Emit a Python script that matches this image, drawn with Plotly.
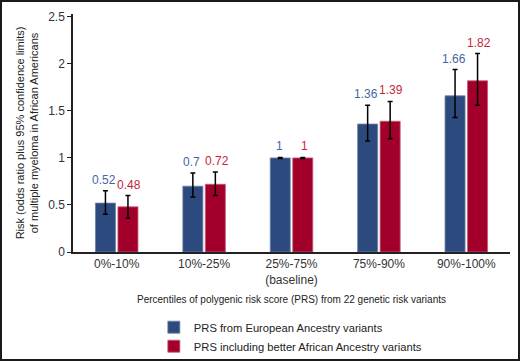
import plotly.graph_objects as go

categories = ["0%-10%", "10%-25%", "25%-75%<br>(baseline)", "75%-90%", "90%-100%"]
eur_or = [0.52, 0.70, 1.00, 1.36, 1.66]
eur_lo = [0.40, 0.585, 0.995, 1.18, 1.43]
eur_hi = [0.65, 0.84, 1.005, 1.56, 1.94]
afr_or = [0.48, 0.72, 1.00, 1.39, 1.82]
afr_lo = [0.36, 0.60, 0.995, 1.205, 1.56]
afr_hi = [0.60, 0.85, 1.005, 1.60, 2.11]
eur_labels = ["0.52", "0.7", "1", "1.36", "1.66"]
afr_labels = ["0.48", "0.72", "1", "1.39", "1.82"]
series_names = ["PRS from European Ancestry variants",
                "PRS including better African Ancestry variants"]

BLUE = "#2c4a7d"
RED = "#a2002b"
BLUE_TXT = "#4566a3"
RED_TXT = "#c51f3d"
NARROW = "Liberation Sans Narrow, Liberation Sans"

fig = go.Figure()
for name, vals, lo, hi, col, edge in [
    (series_names[0], eur_or, eur_lo, eur_hi, BLUE, "#6d83ab"),
    (series_names[1], afr_or, afr_lo, afr_hi, RED, "#c45a74"),
]:
    fig.add_trace(go.Bar(
        x=categories, y=vals, name=name,
        marker=dict(color=col, line=dict(color=edge, width=0.8)),
        error_y=dict(type="data", symmetric=False,
                     array=[h - v for h, v in zip(hi, vals)],
                     arrayminus=[v - l for v, l in zip(vals, lo)],
                     color="black", thickness=1.5, width=2.5),
    ))

for i, c in enumerate(categories):
    fig.add_annotation(x=c, y=eur_hi[i], text=eur_labels[i], showarrow=False,
                       xshift=-12.5, yshift=2, yanchor="bottom",
                       font=dict(color=BLUE_TXT, size=12, family="Liberation Sans"))
    fig.add_annotation(x=c, y=afr_hi[i], text=afr_labels[i], showarrow=False,
                       xshift=12.5, yshift=2, yanchor="bottom",
                       font=dict(color=RED_TXT, size=12, family="Liberation Sans"))

L, R, T, B = 73, 10, 14, 109
W, H = 520, 361
pw, ph = W - L - R, H - T - B
fig.add_shape(type="rect", xref="paper", yref="paper",
              x0=-(L - 1) / pw, x1=(W - L - 1) / pw,
              y0=-(B - 1) / ph, y1=1 + (T - 1) / ph,
              line=dict(color="#1a1a1a", width=2))

fig.update_layout(
    width=W, height=H,
    margin=dict(l=L, r=R, t=T, b=B, autoexpand=False),
    paper_bgcolor="white", plot_bgcolor="white",
    barmode="group", bargap=0.485, bargroupgap=0.11,
    font=dict(family="Liberation Sans", size=12, color="#222"),
    showlegend=True,
    legend=dict(x=0.185, y=-0.255, xanchor="left", yanchor="top",
                font=dict(size=11.2, family="Liberation Sans", color="#222"),
                itemwidth=30, tracegroupgap=0, bgcolor="rgba(0,0,0,0)"),
    xaxis=dict(showline=True, linecolor="#222", linewidth=1.5, ticks="",
               automargin=False,
               tickfont=dict(size=12, family="Liberation Sans", color="#333"),
               title=dict(text="Percentiles of polygenic risk score (PRS) from 22 genetic risk variants",
                          font=dict(size=10, family=NARROW, color="#222"),
                          standoff=10)),
    yaxis=dict(range=[0, 2.53], showline=True, linecolor="#222", linewidth=1.5,
               automargin=False,
               showgrid=False, zeroline=False, ticks="outside", ticklen=4,
               tickcolor="#222", tickvals=[0, 0.5, 1, 1.5, 2, 2.5],
               ticktext=["0", "0.5", "1", "1.5", "2", "2.5"],
               tickfont=dict(size=12, family="Liberation Sans", color="#333"),
               title=dict(text="Risk (odds ratio plus 95% confidence limits)<br>of multiple myeloma in African Americans",
                          font=dict(size=11, family=NARROW, color="#222"),
                          standoff=7)),
)

fig.write_html("out.html", config={"displayModeBar": False},
               post_script="document.body.style.margin='0';document.body.style.overflow='hidden';")
